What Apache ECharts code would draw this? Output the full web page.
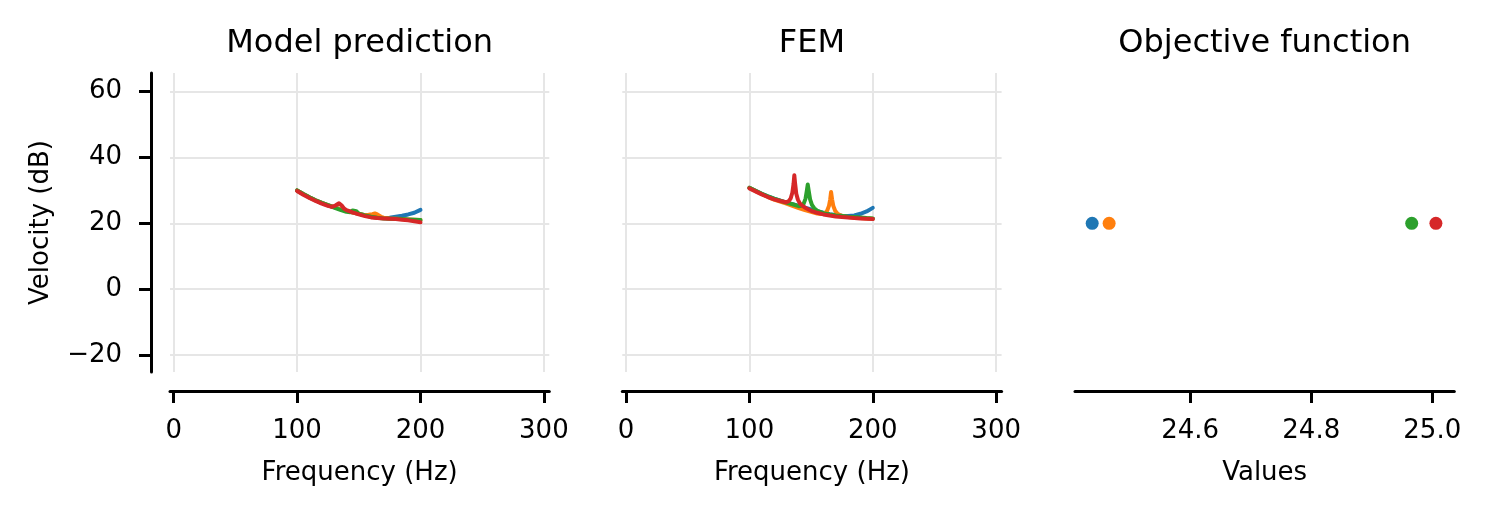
<!DOCTYPE html>
<html>
<head>
<meta charset="utf-8">
<title>Velocity chart</title>
<script src="https://cdn.jsdelivr.net/npm/echarts@6.0.0/dist/echarts.min.js"></script>
<style>
  html, body { margin: 0; padding: 0; background: #fff; }
  #chart { width: 1490px; height: 513px; }
</style>
</head>
<body>
<div id="chart"></div>
<script>
  // tick labels
  var freqTicks = [0, 100, 200, 300]
  var velocityTicks = [-20, 0, 20, 40, 60]
  var valueTicks = [24.6, 24.8, 25.0]
  var titles = ['Model prediction', 'FEM', 'Objective function']
  var colors = ['#1f77b4', '#ff7f0e', '#2ca02c', '#d62728']

  // Model prediction (frequency Hz / velocity dB)
  var modelBlueF = [100, 105, 110, 115, 120, 125, 130, 135, 140, 145, 150, 155, 160, 165, 170, 175, 180, 185, 190, 195, 200]
  var modelBlueV = [30.0, 28.9, 27.9, 27.0, 26.2, 25.5, 24.9, 24.3, 23.8, 23.3, 22.9, 22.5, 22.1, 21.8, 21.6, 21.7, 22.0, 22.3, 22.7, 23.2, 24.1]
  var modelOrangeF = [100, 105, 110, 115, 120, 125, 130, 135, 140, 145, 150, 155, 158, 161, 163, 165, 168, 170, 175, 180, 185, 190, 195, 200]
  var modelOrangeV = [30.0, 28.9, 27.9, 27.0, 26.2, 25.5, 24.9, 24.3, 23.8, 23.3, 22.9, 22.5, 22.6, 22.8, 23.0, 22.7, 22.0, 21.7, 21.5, 21.4, 21.3, 21.2, 21.1, 21.0]
  var modelGreenF = [100, 105, 110, 115, 120, 125, 130, 135, 140, 143, 145, 146.5, 148, 150, 155, 160, 165, 170, 175, 180, 185, 190, 195, 200]
  var modelGreenV = [30.0, 28.9, 27.9, 27.0, 26.2, 25.5, 24.8, 24.1, 23.5, 23.4, 23.9, 24.3, 23.7, 22.9, 22.4, 22.0, 21.7, 21.5, 21.4, 21.4, 21.3, 21.2, 21.1, 21.0]
  var modelRedF = [100, 105, 110, 115, 120, 125, 128, 131, 134, 136, 138, 140, 145, 150, 155, 160, 165, 170, 175, 180, 185, 190, 195, 200]
  var modelRedV = [29.8, 28.7, 27.7, 26.8, 26.0, 25.3, 25.0, 25.4, 26.1, 25.5, 24.5, 24.0, 23.3, 22.7, 22.2, 21.8, 21.6, 21.5, 21.4, 21.3, 21.1, 20.9, 20.6, 20.3]

  // FEM (frequency Hz / velocity dB)
  var femBlueF = [100, 105, 110, 115, 120, 125, 130, 135, 140, 145, 150, 155, 160, 165, 170, 175, 180, 185, 190, 195, 200]
  var femBlueV = [30.8, 29.9, 29.0, 28.2, 27.5, 26.9, 26.3, 25.8, 25.3, 24.8, 24.2, 23.7, 23.2, 22.8, 22.5, 22.3, 22.2, 22.4, 22.9, 23.6, 24.7]
  var femOrangeF = [100, 105, 110, 115, 120, 125, 130, 135, 140, 145, 150, 155, 158, 161, 163, 164.5, 165.5, 166.2, 167, 168, 169.5, 171.5, 174, 177, 180, 185, 190, 195, 200]
  var femOrangeV = [30.8, 29.8, 28.9, 28.0, 27.2, 26.6, 26.0, 25.3, 24.6, 24.0, 23.5, 23.0, 22.8, 23.0, 23.8, 25.3, 27.3, 29.5, 27.3, 25.3, 23.8, 22.9, 22.4, 22.1, 21.9, 21.7, 21.6, 21.5, 21.4]
  var femGreenF = [100, 105, 110, 115, 120, 125, 130, 135, 140, 142, 144, 145.5, 146.5, 147.3, 148.1, 149.2, 150.7, 152.5, 155, 160, 165, 170, 175, 180, 185, 190, 195, 200]
  var femGreenV = [30.8, 29.9, 29.0, 28.2, 27.5, 26.9, 26.3, 25.8, 25.2, 25.3, 26.0, 27.5, 29.8, 31.8, 29.8, 27.3, 25.6, 24.6, 23.8, 23.1, 22.7, 22.4, 22.2, 22.0, 21.9, 21.8, 21.6, 21.5]
  var femRedF = [100, 105, 110, 115, 120, 125, 130, 132, 133.5, 134.8, 135.8, 136.4, 137, 138, 139.3, 141, 143, 146, 150, 155, 160, 165, 170, 175, 180, 185, 190, 195, 200]
  var femRedV = [30.6, 29.7, 28.8, 28.0, 27.3, 26.8, 26.4, 26.8, 27.6, 29.3, 32.0, 34.6, 32.3, 29.0, 27.2, 26.0, 25.3, 24.6, 23.8, 23.2, 22.7, 22.4, 22.1, 21.9, 21.8, 21.6, 21.5, 21.4, 21.3]

  // Objective function
  var objectiveValues = [24.438, 24.466, 24.966, 25.006]
  var objectiveY = [20, 20, 20, 20]

  var font = 'DejaVu Sans'
  var gridLefts = [170, 622.3, 1075]
  var gridWidth = 379.3

  function pairs (xs, ys) {
    return xs.map(function (x, i) { return [x, ys[i]] })
  }
  function minusLabel (v) {
    return v < 0 ? '\u2212' + Math.abs(v) : String(v)
  }

  var axisLine = { show: true, onZero: false, lineStyle: { color: '#000', width: 3 } }
  var axisTick = function (vals) {
    return { show: true, length: 12, customValues: vals, lineStyle: { color: '#000', width: 3 } }
  }
  var gridLine = { show: true, lineStyle: { color: '#e6e6e6', width: 2 } }

  var xAxes = [0, 1].map(function (i) {
    return {
      type: 'value', gridIndex: i, min: -3, max: 304.4, offset: 19,
      axisLine: axisLine, axisTick: axisTick(freqTicks),
      axisLabel: { customValues: freqTicks, margin: 27, color: '#000', fontSize: 26, fontFamily: font },
      splitLine: gridLine,
      name: 'Frequency (Hz)', nameLocation: 'middle', nameGap: 69,
      nameTextStyle: { color: '#000', fontSize: 26, fontFamily: font }
    }
  })
  xAxes.push({
    type: 'value', gridIndex: 2, min: 24.4096, max: 25.0364, offset: 19,
    axisLine: axisLine, axisTick: axisTick(valueTicks),
    axisLabel: { customValues: valueTicks, margin: 27, color: '#000', fontSize: 26, fontFamily: font,
      formatter: function (v) { return v.toFixed(1) } },
    splitLine: { show: false },
    name: 'Values', nameLocation: 'middle', nameGap: 69,
    nameTextStyle: { color: '#000', fontSize: 26, fontFamily: font }
  })

  var yAxes = [
    {
      type: 'value', gridIndex: 0, min: -25.2, max: 65.7, offset: 19,
      axisLine: axisLine, axisTick: axisTick(velocityTicks),
      axisLabel: { customValues: velocityTicks, margin: 29, color: '#000', fontSize: 26, fontFamily: font, formatter: minusLabel },
      splitLine: gridLine,
      name: 'Velocity (dB)', nameLocation: 'middle', nameGap: 97, nameRotate: 90,
      nameTextStyle: { color: '#000', fontSize: 26, fontFamily: font }
    },
    {
      type: 'value', gridIndex: 1, min: -25.2, max: 65.7,
      axisLine: { show: false },
      axisTick: { show: false, customValues: velocityTicks },
      axisLabel: { show: false },
      splitLine: gridLine
    },
    {
      type: 'value', gridIndex: 2, min: -25.2, max: 65.7,
      axisLine: { show: false }, axisTick: { show: false }, axisLabel: { show: false },
      splitLine: { show: false }
    }
  ]

  function lineSeries (grid, xs, ys, color) {
    return {
      type: 'line', xAxisIndex: grid, yAxisIndex: grid,
      data: pairs(xs, ys), showSymbol: false, symbol: 'none',
      lineStyle: { color: color, width: 4, join: 'round', cap: 'round' },
      itemStyle: { color: color }
    }
  }

  var series = [
    lineSeries(0, modelBlueF, modelBlueV, colors[0]),
    lineSeries(0, modelOrangeF, modelOrangeV, colors[1]),
    lineSeries(0, modelGreenF, modelGreenV, colors[2]),
    lineSeries(0, modelRedF, modelRedV, colors[3]),
    lineSeries(1, femBlueF, femBlueV, colors[0]),
    lineSeries(1, femOrangeF, femOrangeV, colors[1]),
    lineSeries(1, femGreenF, femGreenV, colors[2]),
    lineSeries(1, femRedF, femRedV, colors[3]),
    {
      type: 'scatter', xAxisIndex: 2, yAxisIndex: 2, symbolSize: 13,
      data: objectiveValues.map(function (v, i) {
        return { value: [v, objectiveY[i]], itemStyle: { color: colors[i], opacity: 1 } }
      })
    }
  ]

  var option = {
    animation: false,
    backgroundColor: '#fff',
    title: titles.map(function (t, i) {
      return {
        text: t, left: gridLefts[i] + gridWidth / 2, top: 28, padding: 0,
        textAlign: 'center',
        textStyle: { color: '#000', fontSize: 32, fontWeight: 'normal', fontFamily: font }
      }
    }),
    grid: gridLefts.map(function (l) {
      return { left: l, top: 73, width: gridWidth, height: 299, containLabel: false }
    }),
    xAxis: xAxes,
    yAxis: yAxes,
    series: series
  }

  var chart = echarts.init(document.getElementById('chart'))
  chart.setOption(option)
</script>
</body>
</html>
